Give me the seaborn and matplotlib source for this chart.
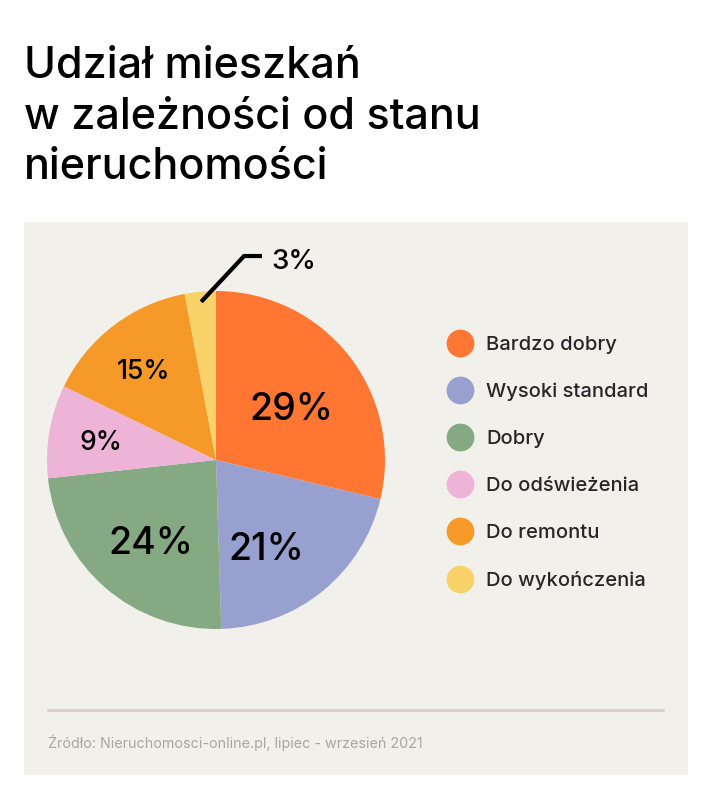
import numpy as np
import matplotlib as mplt
import matplotlib.pyplot as plt
from matplotlib.patches import Rectangle
from matplotlib.lines import Line2D
import seaborn as sns

sns.set_style('white')
mplt.rcParams['font.family'] = ['Inter', 'DejaVu Sans']

# Data
categories = ['Bardzo dobry', 'Wysoki standard', 'Dobry', 'Do odświeżenia', 'Do remontu', 'Do wykończenia']
shares = [29, 21, 24, 9, 15, 3]
colors = sns.color_palette(['#FF7733', '#97A0CF', '#85A983', '#EEB4D8', '#F59A28', '#F9D26A'])

title = 'Udział mieszkań\nw zależności od stanu\nnieruchomości'
source = 'Źródło: Nieruchomosci-online.pl, lipiec - wrzesień 2021'

# label styling per slice (last one gets a leader line)
pct_size = [27, 27, 27, 19, 19, 20]
pct_dist = [0.55, 0.59, 0.61, 0.69, 0.69, None]
pct_shift = [-3, -9, 2, 0, 1, 0]   # angular nudge, degrees

W, H = 711, 800
fig = plt.figure(figsize=(W/100, H/100), dpi=100)
fig.patch.set_facecolor('white')

# beige panel
fig.add_artist(Rectangle((24/W, 25/H), 664/W, 553/H, transform=fig.transFigure,
                         facecolor='#F2F0EB', edgecolor='none', zorder=0))

# pie
r, cx, cy = 169, 216, 460
ax = fig.add_axes([(cx-r)/W, (H-cy-r)/H, 2*r/W, 2*r/H])
ax.patch.set_alpha(0)
wedges, _ = ax.pie(shares, colors=colors, startangle=90, counterclock=False,
                   wedgeprops=dict(linewidth=0))
ax.set_xlim(-1, 1)
ax.set_ylim(-1, 1)
ax.set_aspect('equal')

for w, v, fs, d, s in zip(wedges, shares, pct_size, pct_dist, pct_shift):
    th = np.deg2rad((w.theta1 + w.theta2) / 2 + s)
    if d is not None:
        ax.text(d*np.cos(th), d*np.sin(th), f'{v}%', fontsize=fs, ha='center',
                va='center_baseline', color='black', fontweight='medium')
    else:
        x0, y0 = 0.94*np.cos(th), 0.94*np.sin(th)
        ax.plot([x0, 0.166, 0.272], [y0, 1.207, 1.207], color='black', lw=3,
                solid_capstyle='butt', solid_joinstyle='miter', clip_on=False)
        ax.text(0.33, 1.19, f'{v}%', fontsize=fs, ha='left', va='center_baseline',
                color='black', fontweight='medium')

# legend
handles = [Line2D([], [], marker='o', linestyle='', markersize=20, markerfacecolor=c,
                  markeredgewidth=0) for c in colors]
fig.legend(handles, categories, loc='upper left', bbox_to_anchor=(445/W, 1-336/H),
           frameon=False, handlelength=1.5, handletextpad=0.55,
           labelspacing=1.43, borderpad=0, borderaxespad=0,
           prop=dict(size=14.5, weight='medium'))

# title, separator, source
fig.text(24/W, 1-46/H, title, fontsize=31, fontweight='medium', va='top', ha='left',
         linespacing=1.3, color='black')
fig.add_artist(Line2D([48/W, 663/W], [90/H, 90/H], color='#D6D1C4', linewidth=2.2))
fig.text(48/W, 1-743/H, source, fontsize=10.3, color='#A9A6A1', va='center', ha='left')

fig.savefig('out.png', dpi=100)
